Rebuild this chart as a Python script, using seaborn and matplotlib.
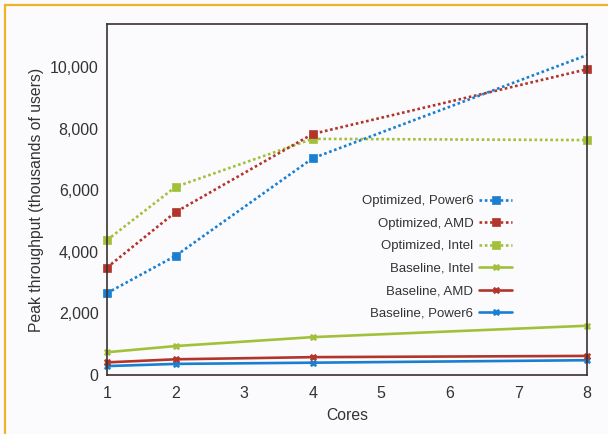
import matplotlib
matplotlib.use("Agg")
import matplotlib.pyplot as plt
import seaborn as sns
import pandas as pd
from matplotlib.lines import Line2D
from matplotlib.ticker import FuncFormatter

# values
cores = [1, 2, 4, 8]
opt_power6 = [2660, 3870, 7040, 10390]
opt_amd = [3490, 5290, 7830, 9930]
opt_intel = [4380, 6110, 7670, 7630]
base_intel = [740, 940, 1230, 1600]
base_amd = [410, 510, 580, 620]
base_power6 = [290, 360, 400, 480]

series_names = ["Optimized, Power6", "Optimized, AMD", "Optimized, Intel",
                "Baseline, Intel", "Baseline, AMD", "Baseline, Power6"]
series_values = [opt_power6, opt_amd, opt_intel, base_intel, base_amd, base_power6]

blue = "#1a7fd1"
red = "#b2352b"
green = "#a2c03a"
colors = [blue, red, green, green, red, blue]

sns.set_style("white")
plt.rcParams["font.family"] = ["Liberation Sans", "DejaVu Sans"]

bg = "#fbfbfd"
fig = plt.figure(figsize=(6.08, 4.34), dpi=100, facecolor=bg)
ax = fig.add_axes([107 / 608, 1 - 375 / 434, 480 / 608, 351 / 434])
ax.set_facecolor(bg)

# baseline first, optimized on top
for name, vals, col in reversed(list(zip(series_names, series_values, colors))):
    df = pd.DataFrame({"cores": cores, "value": vals})
    if name.startswith("Optimized"):
        # the Power6 line runs off the corner, no square shown at 8 cores
        every = [0, 1, 2] if "Power6" in name else None
        sns.lineplot(data=df, x="cores", y="value", ax=ax, color=col, label=name,
                     linestyle=(0, (1, 1)), linewidth=1.9, marker="s", markersize=6,
                     markeredgecolor=col, markeredgewidth=0.5, markevery=every,
                     clip_on=False)
    else:
        sns.lineplot(data=df, x="cores", y="value", ax=ax, color=col, label=name,
                     linewidth=1.9, marker="X", markersize=5,
                     markeredgecolor=col, markeredgewidth=0.5, clip_on=False)

ax.set_xlim(1, 8)
ax.set_ylim(0, 11400)
ax.set_xticks(range(1, 9))
ax.set_yticks(range(0, 10001, 2000))
ax.yaxis.set_major_formatter(FuncFormatter(lambda v, p: f"{v:,.0f}"))

for s in ax.spines.values():
    s.set_color("#3a3030")
    s.set_linewidth(1.2)
ax.tick_params(axis="both", direction="in", length=5, width=1.2, color="#3a3030",
               labelsize=11.5, labelcolor="#333333")
ax.tick_params(axis="x", pad=8)
ax.tick_params(axis="y", pad=6)

ax.set_xlabel("Cores", fontsize=11.3, color="#333333", labelpad=5)
ax.set_ylabel("Peak throughput (thousands of users)", fontsize=11.3,
              color="#333333", labelpad=4)

handles, labels = ax.get_legend_handles_labels()
order = [labels.index(n) for n in series_names]
ax.legend([handles[i] for i in order], [labels[i] for i in order],
          loc="center right", bbox_to_anchor=(0.869, 0.335), frameon=False,
          markerfirst=False, fontsize=9.5, handlelength=2.5, handletextpad=0.45,
          labelspacing=0.78, labelcolor="#333333")

# orange frame at the top and left of the figure
frame_col = "#f0b323"
fig.add_artist(Line2D([5 / 608, 1], [1 - 5 / 434, 1 - 5 / 434],
                      transform=fig.transFigure, color=frame_col, linewidth=1.6))
fig.add_artist(Line2D([5 / 608, 5 / 608], [0, 1 - 5 / 434],
                      transform=fig.transFigure, color=frame_col, linewidth=1.6))

fig.savefig("out.png", dpi=100, facecolor=bg)
